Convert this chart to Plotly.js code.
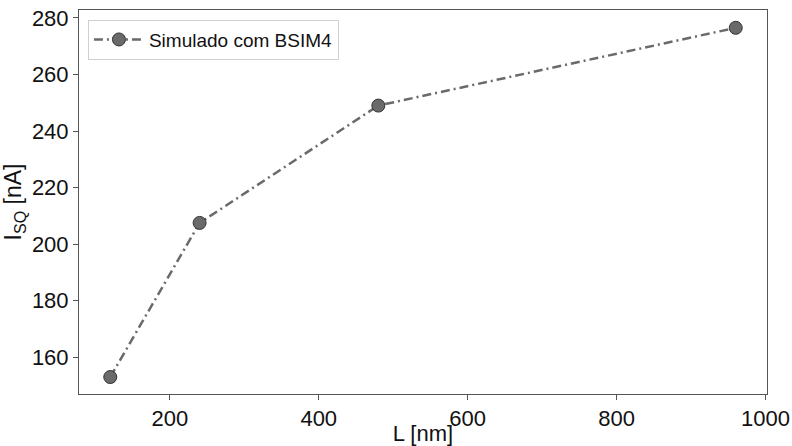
<!DOCTYPE html>
<html>
<head>
<meta charset="utf-8">
<script src="https://cdn.plot.ly/plotly-3.0.1.min.js"></script>
<style>html,body{margin:0;padding:0;background:#fff;}#chart{width:792px;height:446px;}</style>
</head>
<body>
<div id="chart"></div>
<script>
const L_nm = [120, 240, 480, 960];
const Isq_nA = [153, 207.5, 249, 276.5];
const seriesName = "Simulado com BSIM4";
const xTicks = [200, 400, 600, 800, 1000];
const yTicks = [160, 180, 200, 220, 240, 260, 280];

const trace = {
  x: L_nm, y: Isq_nA, name: seriesName, type: 'scatter', mode: 'lines+markers',
  line: {color: '#6a6a6a', width: 2.5, dash: '9px,4px,2px,4px'},
  marker: {color: '#6a6a6a', size: 13, line: {color: '#333', width: 1}}
};
const font = {family: 'Liberation Sans, Arial, sans-serif', color: '#111'};
const axisCommon = {
  showgrid: false, zeroline: false, showline: true, linecolor: '#555', linewidth: 1,
  mirror: true, ticks: 'outside', ticklen: 5, tickcolor: '#555', tickwidth: 1,
  tickfont: Object.assign({size: 22}, font)
};
const layout = {
  width: 792, height: 446,
  margin: {l: 79, r: 25, t: 10, b: 52},
  paper_bgcolor: '#fff', plot_bgcolor: '#fff',
  showlegend: true,
  legend: {x: 0.013, y: 0.975, xanchor: 'left', yanchor: 'top', bgcolor: '#fff',
    bordercolor: '#d0d0d0', borderwidth: 1, itemwidth: 50,
    font: Object.assign({size: 19}, font)},
  xaxis: Object.assign({}, axisCommon, {range: [78, 1002], tickvals: xTicks,
    title: {text: 'L [nm]', font: Object.assign({size: 22}, font), standoff: 0}}),
  yaxis: Object.assign({}, axisCommon, {range: [147, 282.8], tickvals: yTicks,
    title: {text: 'I<sub>SQ</sub> [nA]', font: Object.assign({size: 23}, font), standoff: 6}})
};
Plotly.newPlot('chart', [trace], layout, {displayModeBar: false, staticPlot: true});
</script>
</body>
</html>
